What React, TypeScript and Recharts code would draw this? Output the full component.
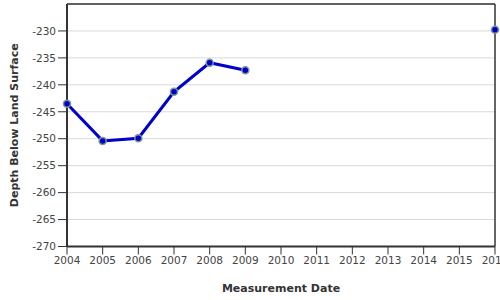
import React from 'react';
import {
  LineChart,
  Line,
  XAxis,
  YAxis,
  CartesianGrid,
  ReferenceLine,
} from 'recharts';

// Measurement years and depth readings (ft below land surface)
const years = [2004, 2005, 2006, 2007, 2008, 2009, 2016];
const depths = [-243.5, -250.4, -249.9, -241.3, -235.9, -237.3, -229.8];

const xTicks = [2004, 2005, 2006, 2007, 2008, 2009, 2010, 2011, 2012, 2013, 2014, 2015, 2016];
const yTicks = [-270, -265, -260, -255, -250, -245, -240, -235, -230];

const FONT = '"DejaVu Sans", Verdana, sans-serif';
const LINE_COLOR = '#0000cc';

/**
 * Split readings into connected runs; a gap of more than one year breaks the line
 */
function buildSegments() {
  const segments: { year: number; depth: number }[][] = [];
  let current: { year: number; depth: number }[] = [];
  years.forEach((year, i) => {
    if (current.length && year - current[current.length - 1].year > 1) {
      segments.push(current);
      current = [];
    }
    current.push({ year, depth: depths[i] });
  });
  if (current.length) segments.push(current);
  return segments;
}

const segments = buildSegments();

const dotStyle = { r: 3.5, fill: LINE_COLOR, stroke: '#7d9595', strokeWidth: 1.5 };

export default function App() {
  return (
    <div style={{ position: 'absolute', top: 0, left: 0, width: 500, height: 300, fontFamily: FONT }}>
      <LineChart width={500} height={300} margin={{ top: 4, right: 5, left: 0, bottom: 0 }}>
        <CartesianGrid vertical={false} stroke="#d9d9d9" strokeWidth={1} />
        <XAxis
          dataKey="year"
          type="number"
          domain={[2004, 2016]}
          ticks={xTicks}
          interval={0}
          height={53.5}
          axisLine={{ stroke: '#333', strokeWidth: 2 }}
          tickLine={{ stroke: '#333', strokeWidth: 1 }}
          tickSize={8}
          tick={{ fill: '#444', fontSize: 10.5, fontFamily: FONT }}
          label={{
            value: 'Measurement Date',
            position: 'insideBottom',
            offset: 8,
            fill: '#333',
            fontSize: 11,
            fontWeight: 'bold',
            fontFamily: FONT,
          }}
        />
        <YAxis
          type="number"
          domain={[-270, -225]}
          ticks={yTicks}
          interval={0}
          width={67}
          axisLine={{ stroke: '#333', strokeWidth: 2 }}
          tickLine={{ stroke: '#333', strokeWidth: 1 }}
          tickSize={9}
          tick={{ fill: '#444', fontSize: 10.5, fontFamily: FONT }}
          label={{
            value: 'Depth Below Land Surface',
            angle: -90,
            position: 'center',
            dx: -19,
            fill: '#333',
            fontSize: 11,
            fontWeight: 'bold',
            fontFamily: FONT,
          }}
        />
        <ReferenceLine y={-225} stroke="#333" strokeWidth={1.5} ifOverflow="visible" />
        <ReferenceLine x={2016} stroke="#333" strokeWidth={1.5} ifOverflow="visible" />
        {segments.map((seg, i) => (
          <Line
            key={i}
            data={seg}
            dataKey="depth"
            type="linear"
            stroke={LINE_COLOR}
            strokeWidth={3}
            dot={dotStyle}
            activeDot={false}
            isAnimationActive={false}
          />
        ))}
      </LineChart>
    </div>
  );
}
